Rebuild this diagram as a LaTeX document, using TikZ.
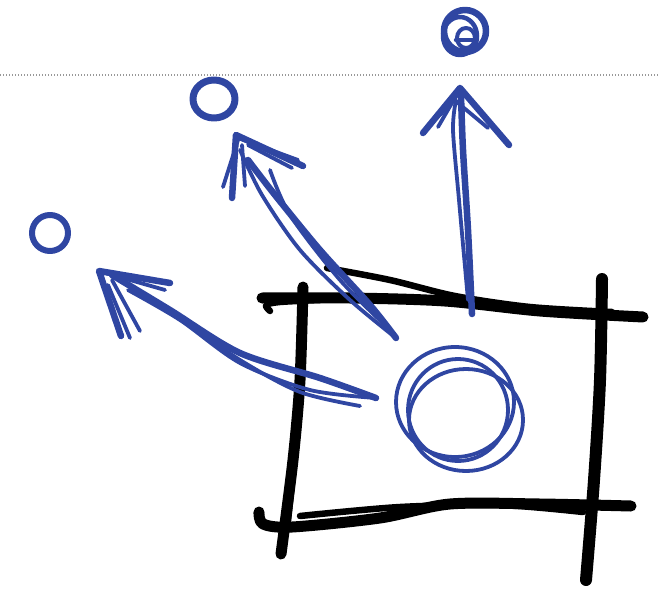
\documentclass[tikz,border=0pt]{standalone}
\definecolor{pen}{HTML}{2F46A2}
\begin{document}
\begin{tikzpicture}[x=1pt,y=-1pt,
  blk/.style={line width=11pt, line cap=round, line join=round, black},
  blkthin/.style={line width=6.5pt, line cap=round, line join=round, black},
  bluepen/.style={pen, line width=6.5pt, line cap=round, line join=round},
  bluethin/.style={pen, line width=3.8pt, line cap=round, line join=round},
  guide/.style={gray!80, line width=1.2pt, dash pattern=on 1.2pt off 1.8pt}]
\useasboundingbox (0,0) rectangle (660,591);
% dotted guide line
\draw[guide] (0,75) -- (660,75);

% ---- black box ----
\draw[blk] plot[smooth] coordinates {(262,298) (350,298) (445,301) (540,311) (643,317)};
\draw[blkthin] plot[smooth] coordinates {(327,268) (390,280) (455,296) (530,307) (612,312)};
\draw[blkthin] plot[smooth] coordinates {(270,311) (266,305) (280,302) (320,300)};
\draw[blk] plot[smooth] coordinates {(303,287) (300,380) (293,460) (281,554)};
\draw[blkthin] plot[smooth] coordinates {(298,390) (294,460) (287,530)};
\draw[line width=12pt, line cap=round, black] plot[smooth] coordinates {(602,279) (600,380) (594,480) (586,580)};
\draw[blk] plot[smooth] coordinates {(259,512) (263,524) (292,527) (380,518) (450,504) (540,504) (631,506)};
\draw[blkthin] plot[smooth] coordinates {(300,516) (400,507) (500,505) (583,512)};

% ---- big circle in the box ----
\draw[bluethin] (455,402) ellipse [x radius=59, y radius=55];
\draw[bluethin] (466,420) ellipse [x radius=57, y radius=51];
\draw[bluethin] (458,410) ellipse [x radius=50, y radius=51];

% ---- small circles ----
\draw[bluepen, line width=6.5pt] (465,31) ellipse [x radius=21, y radius=21];
\draw[bluepen, line width=4.5pt] (460,36) ellipse [x radius=17, y radius=19];
\draw[bluepen, line width=4pt] (466,38) ellipse [x radius=9, y radius=10];
\draw[bluepen, line width=4.5pt] (456,40) -- (477,40);
\draw[bluepen, line width=7pt] (214,99) ellipse [x radius=21, y radius=19];
\draw[bluepen, line width=6pt] (50,233) ellipse [x radius=18, y radius=18];

% ---- vertical arrow ----
\draw[bluepen] plot[smooth] coordinates {(472,314) (468,230) (463,150) (461,95)};
\draw[bluethin] plot[smooth] coordinates {(468,300) (459,200) (453,130) (456,100)};
\draw[bluepen] (423,133) -- (460,88) -- (509,145);
\draw[bluethin] (438,127) -- (456,96);
\draw[bluethin] (452,98) -- (488,128);
\draw[bluethin] (440,115) -- (462,90) -- (500,135);

% ---- middle arrow ----
\draw[bluepen] plot[smooth] coordinates {(396,338) (370,305) (320,250) (275,195) (248,160)};
\draw[bluethin] plot[smooth] coordinates {(396,338) (350,300) (300,250) (262,195) (240,150)};
\draw[bluethin] plot[smooth] coordinates {(390,330) (340,280) (290,215) (270,170)};
\draw[bluepen] (232,198) -- (236,135) -- (303,166);
\draw[bluethin] (223,187) -- (238,140);
\draw[bluethin] (245,186) -- (242,145);
\draw[bluethin] (238,138) -- (298,160);
\draw[bluethin] (248,145) -- (292,168);

% ---- left arrow ----
\draw[bluepen] plot[smooth] coordinates {(376,398) (320,378) (240,353) (170,310) (112,275)};
\draw[bluethin] plot[smooth] coordinates {(376,398) (310,390) (240,363) (180,320) (128,290)};
\draw[bluethin] plot[smooth] coordinates {(360,406) (300,392) (240,360) (170,312)};
\draw[bluepen] (121,336) -- (99,271) -- (170,283);
\draw[bluethin] (130,338) -- (108,285);
\draw[bluethin] (140,331) -- (112,280);
\draw[bluethin] (102,272) -- (165,290);
\end{tikzpicture}
\end{document}
